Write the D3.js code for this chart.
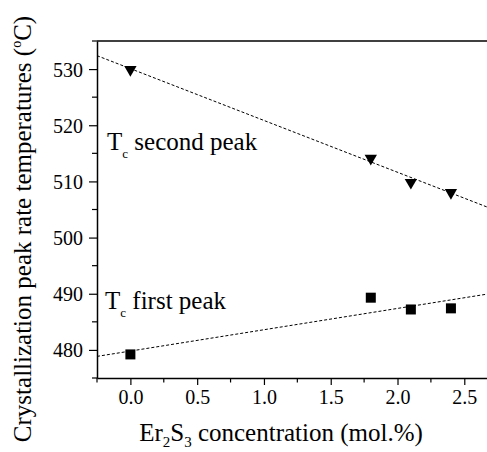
<!DOCTYPE html>
<html>
<head>
<meta charset="utf-8">
<script src="https://cdn.jsdelivr.net/npm/d3@7"></script>
</head>
<body style="margin:0">
<svg id="chart" width="487" height="452" font-family="Liberation Serif"></svg>
<script>
// concentrations (mol.% Er2S3)
const concentration = [0.0, 1.8, 2.1, 2.4];
// crystallization peak temperatures (°C)
const secondPeak = [530.0, 514.2, 509.9, 508.1];
const firstPeak = [479.2, 489.3, 487.2, 487.4];

const xTicks = [0.0, 0.5, 1.0, 1.5, 2.0, 2.5];
const yTicks = [480, 490, 500, 510, 520, 530];

const FONT = "Liberation Serif";
const width = 487, height = 452;
const margin = { top: 41, right: -4, bottom: 74, left: 97 };

const svg = d3.select("#chart");

const x = d3.scaleLinear()
    .domain([-0.25, 2.7])
    .range([margin.left, width - margin.right]);

const y = d3.scaleLinear()
    .domain([475, 535])
    .range([height - margin.bottom, margin.top]);

// least squares fit, drawn over the whole x range
function linFit(xs, ys) {
    let mx = d3.mean(xs), my = d3.mean(ys);
    let sxy = d3.sum(xs, (v, i) => (v - mx) * (ys[i] - my));
    let sxx = d3.sum(xs, v => (v - mx) * (v - mx));
    let b = sxy / sxx;
    return t => my + b * (t - mx);
}

// axes
const xMinor = d3.range(-0.25, 2.71, 0.25).filter(v => !xTicks.some(t => Math.abs(t - v) < 1e-6));
const yMinor = d3.range(475, 536, 5).filter(v => !yTicks.includes(v));

const xAxis = svg.append("g")
    .attr("transform", "translate(0," + y.range()[0] + ")")
    .call(d3.axisBottom(x).tickValues(xTicks).tickFormat(d3.format(".1f")).tickSize(7).tickSizeOuter(0));
xAxis.append("g").selectAll("line")
    .data(xMinor).enter().append("line")
    .attr("x1", d => x(d)).attr("x2", d => x(d))
    .attr("y1", 0).attr("y2", 4.5)
    .attr("stroke", "#000").attr("stroke-width", 1.2);

const yAxis = svg.append("g")
    .attr("transform", "translate(" + x.range()[0] + ",0)")
    .call(d3.axisLeft(y).tickValues(yTicks).tickSize(8).tickSizeOuter(0));
yAxis.append("g").selectAll("line")
    .data(yMinor).enter().append("line")
    .attr("y1", d => y(d)).attr("y2", d => y(d))
    .attr("x1", 0).attr("x2", -5)
    .attr("stroke", "#000").attr("stroke-width", 1.2);

xAxis.attr("font-family", null);
yAxis.attr("font-family", null);
svg.selectAll(".domain").attr("stroke-width", 1.5);
svg.selectAll(".tick line").attr("stroke-width", 1.2);
svg.selectAll(".tick text").attr("font-size", 20).attr("fill", "#000");
xAxis.selectAll(".tick text").attr("dy", "0.82em");
yAxis.selectAll(".tick text").attr("x", -14).attr("dy", "0.35em");

// top frame line
svg.append("line")
    .attr("x1", x.range()[0]).attr("x2", width)
    .attr("y1", y.range()[1]).attr("y2", y.range()[1])
    .attr("stroke", "#000").attr("stroke-width", 1.5);

// fit lines
const fitDomain = x.domain();
[secondPeak, firstPeak].forEach(series => {
    let f = linFit(concentration, series);
    svg.append("line")
        .attr("x1", x(fitDomain[0])).attr("y1", y(f(fitDomain[0])))
        .attr("x2", x(fitDomain[1])).attr("y2", y(f(fitDomain[1])))
        .attr("stroke", "#000")
        .attr("stroke-width", 1)
        .attr("stroke-dasharray", "3,2");
});

// markers
const tri = d3.symbol().type(d3.symbolTriangle).size(66);
svg.append("g").selectAll("path")
    .data(concentration.map((c, i) => [c, secondPeak[i]]))
    .enter().append("path")
    .attr("d", tri)
    .attr("transform", d => "translate(" + x(d[0]) + "," + (y(d[1]) + 0.5) + ") rotate(180)")
    .attr("fill", "#000");

const sq = 10;
svg.append("g").selectAll("rect")
    .data(concentration.map((c, i) => [c, firstPeak[i]]))
    .enter().append("rect")
    .attr("x", d => x(d[0]) - sq / 2)
    .attr("y", d => y(d[1]) - sq / 2)
    .attr("width", sq).attr("height", sq)
    .attr("fill", "#000");

// series labels
function tcLabel(px, py, rest) {
    let t = svg.append("text").attr("x", px).attr("y", py).attr("font-size", 25);
    t.append("tspan").text("T");
    t.append("tspan").attr("font-size", 13).attr("dy", 8).text("c");
    t.append("tspan").attr("dy", -8).text(" " + rest);
}
tcLabel(107, 150, "second peak");
tcLabel(105, 309, "first peak");

// axis titles
const xt = svg.append("text")
    .attr("x", 281)
    .attr("y", 441)
    .attr("text-anchor", "middle")
    .attr("font-size", 25);
xt.append("tspan").text("Er");
xt.append("tspan").attr("font-size", 15).attr("dy", 6).text("2");
xt.append("tspan").attr("dy", -6).text("S");
xt.append("tspan").attr("font-size", 15).attr("dy", 6).text("3");
xt.append("tspan").attr("dy", -6).text(" concentration (mol.%)");

const yt = svg.append("text")
    .attr("transform", "translate(31," + 229 + ") rotate(-90)")
    .attr("text-anchor", "middle")
    .attr("font-size", 25);
yt.append("tspan").text("Crystallization peak rate temperatures (");
yt.append("tspan").attr("font-size", 14).attr("dy", -10).text("o");
yt.append("tspan").attr("dy", 10).text("C)");

svg.selectAll("text").style("font-family", FONT);
</script>
</body>
</html>
